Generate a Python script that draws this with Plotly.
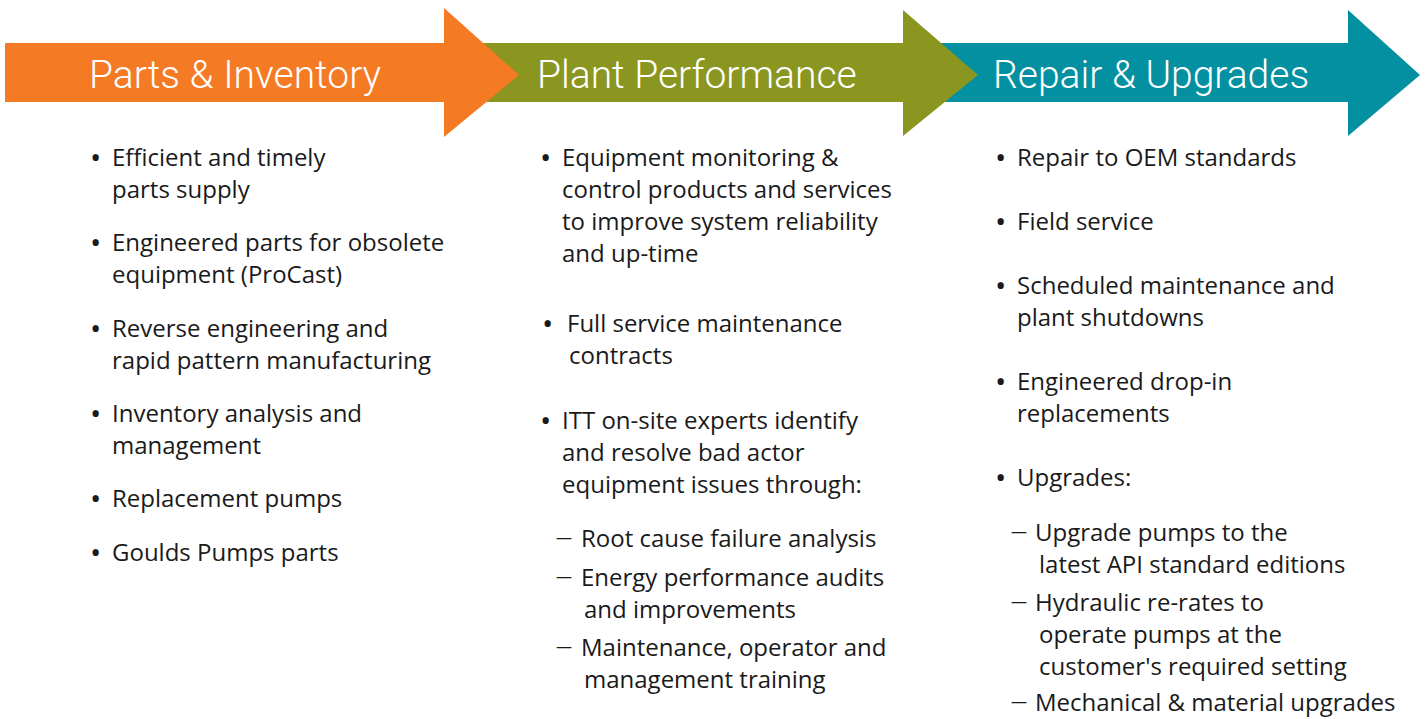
import plotly.graph_objects as go

# ---- content ----
stage_titles = ["Parts & Inventory", "Plant Performance", "Repair & Upgrades"]
stage_colors = ["#F47A24", "#8A961F", "#0390A1"]

col1_items = [
    ["Efficient and timely", "parts supply"],
    ["Engineered parts for obsolete", "equipment (ProCast)"],
    ["Reverse engineering and", "rapid pattern manufacturing"],
    ["Inventory analysis and", "management"],
    ["Replacement pumps"],
    ["Goulds Pumps parts"],
]
col2_items = [
    ["Equipment monitoring &", "control products and services", "to improve system reliability", "and up-time"],
    ["Full service maintenance", "contracts"],
    ["ITT on-site experts identify", "and resolve bad actor", "equipment issues through:"],
]
col2_sub = [
    ["Root cause failure analysis"],
    ["Energy performance audits", "and improvements"],
    ["Maintenance, operator and", "management training"],
]
col3_items = [
    ["Repair to OEM standards"],
    ["Field service"],
    ["Scheduled maintenance and", "plant shutdowns"],
    ["Engineered drop-in", "replacements"],
    ["Upgrades:"],
]
col3_sub = [
    ["Upgrade pumps to the", "latest API standard editions"],
    ["Hydraulic re-rates to", "operate pumps at the", "customer's required setting"],
    ["Mechanical & material upgrades"],
]

# ---- layout geometry (pixels) ----
W, H = 1426, 719
LINE = 32
BODY_FONT = "Open Sans"
BODY_SIZE = 24
TXT = "#1a1a1a"
DY = -1

# arrows: (body_left, head_base, tip, head_top, head_bottom)
arrows = [
    (5, 444, 519, 8, 137),
    (470, 903, 978, 10, 136),
    (930, 1348, 1420, 10, 136),
]
body_top, body_bot, mid_y = 43, 102, 75
title_x = [235, 697, 1151]

fig = go.Figure()
shapes = []
for i in reversed(range(3)):
    bl, hb, tip, ht, hbtm = arrows[i]
    path = (f"M {bl},{body_top} L {hb},{body_top} L {hb},{ht} L {tip},{mid_y} "
            f"L {hb},{hbtm} L {hb},{body_bot} L {bl},{body_bot} Z")
    shapes.append(dict(type="path", path=path, xref="x", yref="y",
                       fillcolor=stage_colors[i], line=dict(width=0), layer="above"))

annotations = []
for i, t in enumerate(stage_titles):
    annotations.append(dict(x=title_x[i], y=mid_y, text=t, showarrow=False,
                            xref="x", yref="y", xanchor="center", yanchor="middle",
                            font=dict(family="Roboto", size=39, weight=300, color="white")))

def add_line(x, y, text, size=BODY_SIZE):
    annotations.append(dict(x=x, y=y + DY, text=text, showarrow=False, xref="x", yref="y",
                            xanchor="left", yanchor="middle",
                            font=dict(family=BODY_FONT, size=size, color=TXT)))

def add_items(items, starts, mark, mark_x, text_x, cont_x, mark_size):
    for item, y0 in zip(items, starts):
        add_line(mark_x, y0, mark, mark_size)
        for k, ln in enumerate(item):
            add_line(text_x if k == 0 else cont_x, y0 + k * LINE, ln)

BUL, DASH = "•", "—"
add_items(col1_items, [157, 242, 328, 413, 498, 552], BUL, 88, 110, 110, 30)
add_items(col2_items[:1], [157], BUL, 538, 560, 560, 30)
add_items(col2_items[1:2], [323], BUL, 540, 565, 567, 30)
add_items(col2_items[2:], [420], BUL, 538, 560, 560, 30)
add_items(col2_sub, [538, 577, 647], DASH, 554, 579, 582, 16)
add_items(col3_items, [157, 221, 285, 381, 477], BUL, 993, 1015, 1015, 30)
add_items(col3_sub, [532, 602, 702], DASH, 1009, 1033, 1037, 16)

fig.update_layout(
    width=W, height=H, margin=dict(l=0, r=0, t=0, b=0),
    paper_bgcolor="white", plot_bgcolor="white",
    shapes=shapes, annotations=annotations, showlegend=False,
    xaxis=dict(range=[0, W], visible=False, fixedrange=True),
    yaxis=dict(range=[H, 0], visible=False, fixedrange=True),
)
fig.write_html("out.html", config={"displayModeBar": False},
               post_script="document.body.style.margin='0';document.body.style.overflow='hidden';")
